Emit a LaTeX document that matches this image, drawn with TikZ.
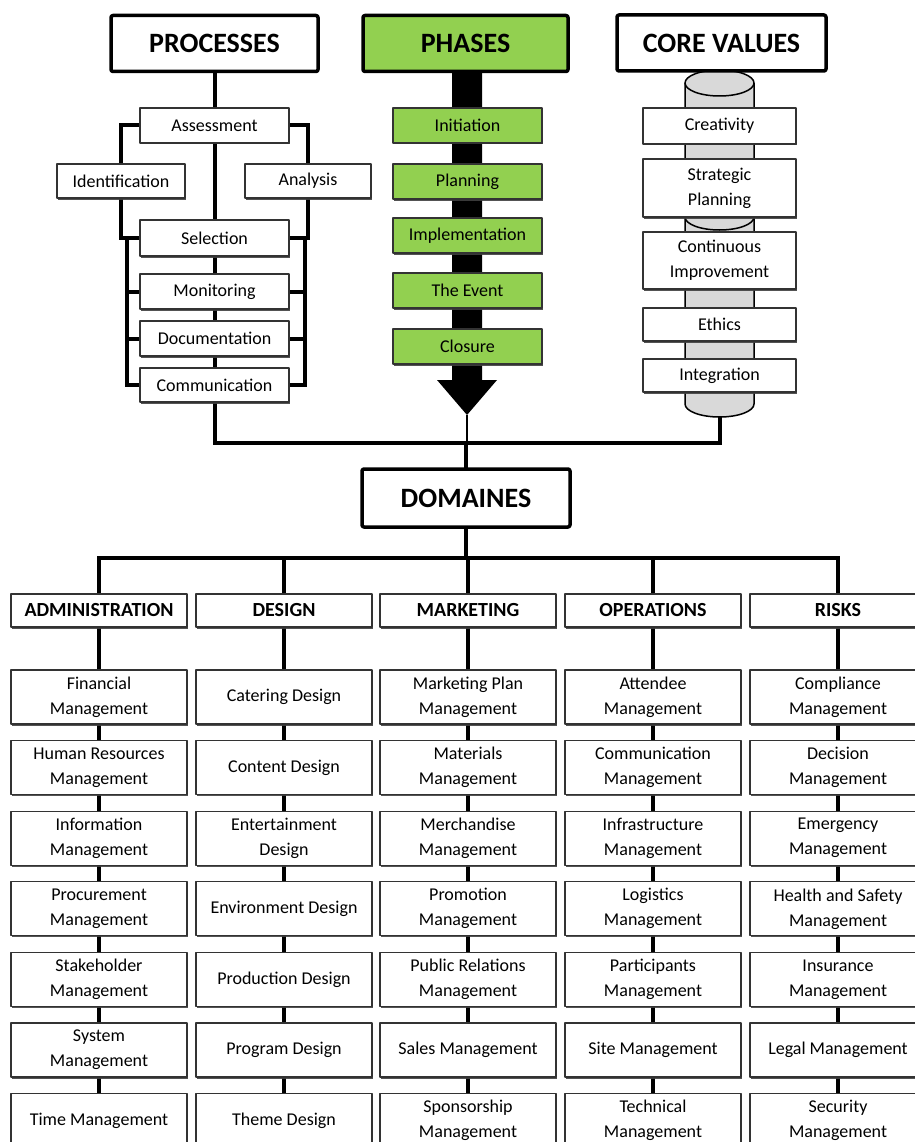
\documentclass[tikz,border=0pt]{standalone}
\usepackage{fontspec}
\setmainfont{Carlito}
\usetikzlibrary{shadows,backgrounds}

\definecolor{phasegreen}{HTML}{92D050}
\definecolor{pillargray}{HTML}{D9D9D9}

\tikzset{
  head/.style={draw, line width=3.5pt, rounded corners=2pt, fill=white, inner sep=0pt,
    minimum height=56pt, font=\fontsize{28}{30}\selectfont\bfseries},
  box/.style={draw=black!80, line width=1.2pt, fill=white, align=center, inner sep=0pt,
    minimum height=35pt, font=\fontsize{18}{25}\selectfont,
    drop shadow={shadow xshift=.8pt, shadow yshift=-1.5pt, fill=black!75, opacity=.9}},
  dombox/.style={box, minimum width=176pt, minimum height=54pt},
  colhead/.style={box, minimum width=176pt, minimum height=33pt, font=\fontsize{20}{22}\selectfont\bfseries},
  link/.style={line width=4pt, line cap=rect},
}

\begin{document}
\begin{tikzpicture}[x=1pt, y=-1pt, line join=round]
\useasboundingbox (0,0) rectangle (914,1142);
% phase arrow and core value pillar
\fill (452,70) -- (452,380) -- (437,380) -- (467,415) -- (497,380) -- (482,380) -- (482,70) -- cycle;
\draw[line width=1.5pt, fill=pillargray] (685,83) -- (685,404) arc(180:0:34.5 and 13) -- (754,83);
\draw[line width=1.5pt, fill=pillargray] (719.5,83) ellipse (34.5 and 13);
\draw[line width=1.5pt] (685,217) arc(180:0:34.5 and 13);
\coordinate (tip) at (467,415);
\coordinate (pillar) at (720,417);

% top headers
\node[head, minimum width=207pt] (proc) at (214.5,43.5) {PROCESSES};
\node[head, minimum width=205pt, fill=phasegreen] (phas) at (465.5,43.5) {PHASES};
\node[head, minimum width=209pt] (core) at (721.5,43) {CORE VALUES};

% processes
\node[box, minimum width=149pt] (asse) at (214.5,125.5) {Assessment};
\node[box, minimum width=128pt, minimum height=34pt] (iden) at (121,181) {Identification};
\node[box, minimum width=126pt, minimum height=34pt] (anal) at (308,181) {Analysis};
\node[box, minimum width=149pt, minimum height=36pt] (sele) at (214.5,238) {Selection};
\node[box, minimum width=149pt] (moni) at (214.5,291.5) {Monitoring};
\node[box, minimum width=149pt] (docu) at (214.5,338.5) {Documentation};
\node[box, minimum width=149pt, minimum height=34pt] (comm) at (214.5,385) {Communication};

% phases
\foreach \t/\y [count=\i] in {Initiation/125.5, Planning/181.5, Implementation/235.5, The Event/290.5, Closure/346.5}
  \node[box, minimum width=149pt, fill=phasegreen] (pha\i) at (467.5,\y) {\t};

% core values
\node[box, minimum width=153pt, minimum height=36pt] (crea) at (719.5,126) {Creativity};
\node[box, minimum width=153pt, minimum height=58pt] (stra) at (719.5,188) {Strategic\\Planning};
\node[box, minimum width=153pt, minimum height=57pt] (cont) at (719.5,260.5) {Continuous\\Improvement};
\node[box, minimum width=153pt, minimum height=33pt] (ethi) at (719.5,324.5) {Ethics};
\node[box, minimum width=153pt, minimum height=33pt] (inte) at (719.5,375.5) {Integration};

% domaines
\node[head, minimum width=208pt, minimum height=58pt] (dom) at (466,498) {DOMAINES};

\foreach \c/\x/\t in {adm/99/ADMINISTRATION, des/284/DESIGN, mkt/468/MARKETING, ops/653/OPERATIONS, rsk/838/RISKS}
  \node[colhead] (\c0) at (\x,610.5) {\t};

\foreach \t [count=\i] in {Financial\\Management, Human Resources\\Management, Information\\Management,
    Procurement\\Management, Stakeholder\\Management, System\\Management, Time Management}
  \node[dombox] (adm\i) at (99,{626.4+70.6*\i}) {\t};
\foreach \t [count=\i] in {Catering Design, Content Design, Entertainment\\Design, Environment Design,
    Production Design, Program Design, Theme Design}
  \node[dombox] (des\i) at (284,{626.4+70.6*\i}) {\t};
\foreach \t [count=\i] in {Marketing Plan\\Management, Materials\\Management, Merchandise\\Management,
    Promotion\\Management, Public Relations\\Management, Sales Management, Sponsorship\\Management}
  \node[dombox] (mkt\i) at (468,{626.4+70.6*\i}) {\t};
\foreach \t [count=\i] in {Attendee\\Management, Communication\\Management, Infrastructure\\Management,
    Logistics\\Management, Participants\\Management, Site Management, Technical\\Management}
  \node[dombox] (ops\i) at (653,{626.4+70.6*\i}) {\t};
\foreach \t [count=\i] in {Compliance\\Management, Decision\\Management, Emergency\\Management,
    Health and Safety\\Management, Insurance\\Management, Legal Management, Security\\Management}
  \node[dombox] (rsk\i) at (838,{626.4+70.6*\i}) {\t};

% connectors
\begin{scope}[on background layer]
\coordinate (lbar) at (127,0);
\coordinate (rbar) at (305,0);
\coordinate (bus1) at (0,443);
\coordinate (bus2) at (0,558);
\draw[link] (proc) -- (asse) (asse) -- (sele) (sele) -- (moni) (moni) -- (docu) (docu) -- (comm);
\draw[link] (asse.west) -| (iden) (iden) |- (sele.west);
\draw[link] (asse.east) -| (anal) (anal) |- (sele.east);
\draw[link] (sele.west) -- (sele.west -| lbar) |- (comm.west)
  (moni.west) -- (moni.west -| lbar) (docu.west) -- (docu.west -| lbar);
\draw[link] (sele.east) -- (sele.east -| rbar) |- (comm.east)
  (moni.east) -- (moni.east -| rbar) (docu.east) -- (docu.east -| rbar);
\draw[link] (comm) -- (comm |- bus1) -- (pillar |- bus1) -- (pillar);
\draw[line width=2pt] (tip) -- (tip |- bus1);
\draw[link] (dom.north |- bus1) -- (dom);
\draw[link] (dom) -- (dom |- bus2);
\draw[link] (adm0 |- bus2) -- (rsk0 |- bus2);
\foreach \c in {adm,des,mkt,ops,rsk} {
  \draw[link] (\c0 |- bus2) -- (\c0) (\c0) -- (\c1);
  \foreach \i/\j in {1/2,2/3,3/4,4/5,5/6,6/7}
    \draw[link] (\c\i) -- (\c\j);
}
\end{scope}
\end{tikzpicture}
\end{document}
